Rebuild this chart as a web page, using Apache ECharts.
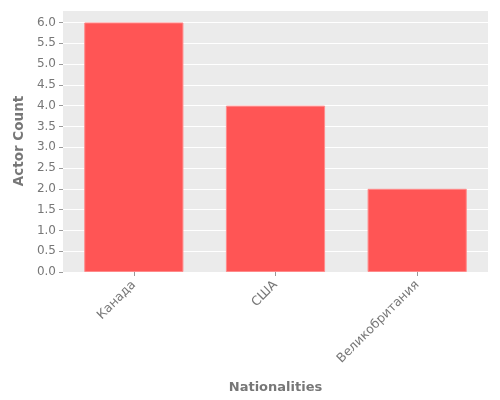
<!DOCTYPE html>
<html><head><meta charset="utf-8">
<script src="https://cdn.jsdelivr.net/npm/echarts@6/dist/echarts.min.js"></script>
<style>html,body{margin:0;padding:0;background:#fff}#c{width:500px;height:400px}</style>
</head><body><div id="c"></div>
<script>
const categories = ['Канада', 'США', 'Великобритания'];
const actorCounts = [6, 4, 2];
const yTicks = { min: 0, max: 6.3, interval: 0.5 };

const chart = echarts.init(document.getElementById('c'), null, { renderer: 'canvas' });
chart.setOption({
  animation: false,
  backgroundColor: '#ffffff',
  grid: { left: 63, right: 12, top: 10, bottom: 128, backgroundColor: '#EBEBEB', show: true, borderWidth: 0 },
  xAxis: {
    type: 'category',
    data: categories,
    name: 'Nationalities',
    nameLocation: 'middle',
    nameGap: 109,
    nameTextStyle: { fontFamily: 'DejaVu Sans', fontSize: 13, fontWeight: 'bold', color: '#777777' },
    axisLine: { show: false },
    axisTick: { show: true, alignWithLabel: true, length: 4, lineStyle: { color: '#999999' } },
    axisLabel: { rotate: 45, fontFamily: 'DejaVu Sans', fontSize: 12.5, color: '#777777', margin: 11 },
    splitLine: { show: false }
  },
  yAxis: {
    type: 'value',
    min: yTicks.min,
    max: yTicks.max,
    interval: yTicks.interval,
    name: 'Actor Count',
    nameLocation: 'middle',
    nameGap: 32,
    nameTextStyle: { fontFamily: 'DejaVu Sans', fontSize: 13.5, fontWeight: 'bold', color: '#777777' },
    axisLine: { show: false },
    axisTick: { show: true, length: 4, lineStyle: { color: '#999999' } },
    axisLabel: { showMaxLabel: false, fontFamily: 'DejaVu Sans', fontSize: 12, color: '#777777', margin: 7,
      formatter: v => (Math.abs(v * 2 - Math.round(v * 2)) < 1e-9 ? v.toFixed(1) : '') },
    splitLine: { show: true, lineStyle: { color: '#ffffff', width: 1 } }
  },
  series: [{
    type: 'bar',
    data: actorCounts,
    barWidth: '70%',
    itemStyle: { color: '#FF5555', borderColor: '#FF8A8A', borderWidth: 1 }
  }]
});
</script></body></html>
